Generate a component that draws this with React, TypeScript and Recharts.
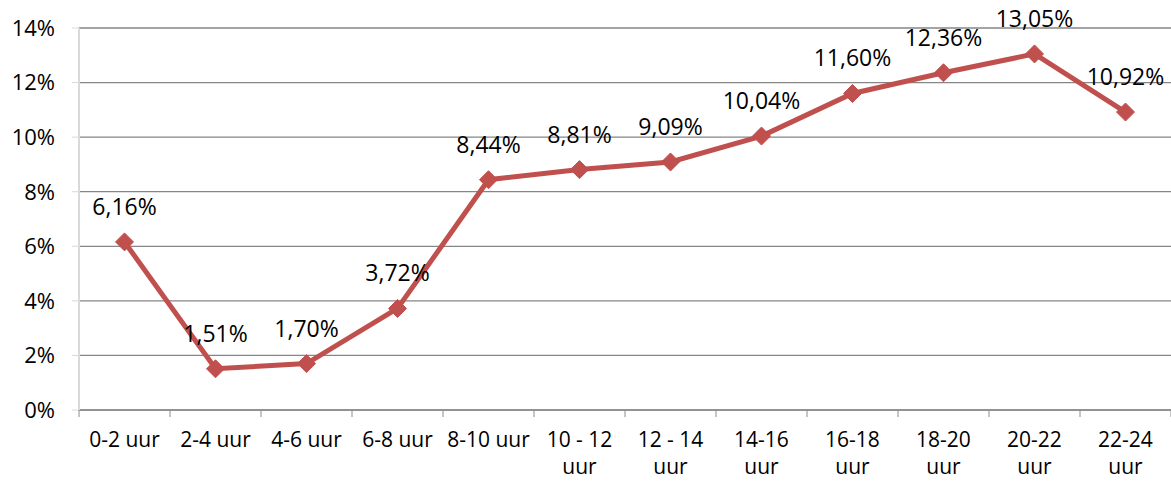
import React from 'react';
import { LineChart, Line, XAxis, YAxis, CartesianGrid, LabelList } from 'recharts';

const categories = ['0-2 uur', '2-4 uur', '4-6 uur', '6-8 uur', '8-10 uur', '10 - 12 uur', '12 - 14 uur', '14-16 uur', '16-18 uur', '18-20 uur', '20-22 uur', '22-24 uur'];
const shares = [6.16, 1.51, 1.7, 3.72, 8.44, 8.81, 9.09, 10.04, 11.6, 12.36, 13.05, 10.92];
const yTicks = [0, 2, 4, 6, 8, 10, 12, 14];

const data = categories.map((name, i) => ({ name, value: shares[i] }));

const FONT = '"Open Sans", sans-serif';
const RED = '#c0504d';
const AXIS_GREY = '#8c8c8c';

const fmtPct = (v: number) => v.toFixed(2).replace('.', ',') + '%';

const Diamond = (props: any) => {
    const { cx, cy } = props;
    if (cx == null || cy == null) return null;
    const r = 9;
    return (
        <polygon
            points={`${cx},${cy - r} ${cx + r},${cy} ${cx},${cy + r} ${cx - r},${cy}`}
            fill={RED}
            stroke={RED}
            strokeWidth={1}
        />
    );
};

// category label, wrapped onto two lines when long, plus the tick marks on the band edges
const XTick = (props: any) => {
    const { x, y, payload, width, visibleTicksCount, index } = props;
    const step = width / visibleTicksCount;
    const label: string = payload.value;
    let lines = [label];
    if (label.length > 8) {
        const cut = label.lastIndexOf(' ');
        lines = [label.slice(0, cut), label.slice(cut + 1)];
    }
    const top = y - 2 - 7;
    return (
        <g>
            <line x1={x - step / 2} x2={x - step / 2} y1={top} y2={top + 7} stroke={AXIS_GREY} />
            {index === visibleTicksCount - 1 && (
                <line x1={x + step / 2} x2={x + step / 2} y1={top} y2={top + 7} stroke={AXIS_GREY} />
            )}
            <text x={x} y={y} textAnchor="middle" fill="#000" fontFamily={FONT} fontSize={21}>
                {lines.map((l, i) => (
                    <tspan key={i} x={x} dy={i === 0 ? 28 : 27}>{l}</tspan>
                ))}
            </text>
        </g>
    );
};

const PointLabel = (props: any) => {
    const { x, y, value } = props;
    return (
        <text x={x} y={y - 27} textAnchor="middle" fill="#000" fontFamily={FONT} fontSize={23}>
            {fmtPct(value)}
        </text>
    );
};

export default function App() {
    return (
        <div style={{ position: 'absolute', left: 0, top: 0, background: '#fff' }}>
            <LineChart width={1171} height={482} data={data} margin={{ top: 28, right: 0, left: 0, bottom: 0 }}>
                <CartesianGrid vertical={false} stroke="#868686" strokeWidth={1.3} />
                <XAxis
                    dataKey="name"
                    height={72}
                    interval={0}
                    padding={{ left: 45.5, right: 45.5 }}
                    tick={<XTick />}
                    tickSize={7}
                    tickMargin={2}
                    tickLine={false}
                    axisLine={{ stroke: AXIS_GREY, strokeWidth: 1.3 }}
                />
                <YAxis
                    width={79}
                    domain={[0, 14]}
                    ticks={yTicks}
                    interval={0}
                    tickFormatter={(v: number) => `${v}%`}
                    tickSize={7}
                    tickMargin={17}
                    axisLine={{ stroke: '#d9d9d9', strokeWidth: 2 }}
                    tickLine={{ stroke: '#d9d9d9' }}
                    tick={{ fill: '#000', fontFamily: FONT, fontSize: 22 }}
                />
                <Line
                    type="linear"
                    dataKey="value"
                    stroke={RED}
                    strokeWidth={5}
                    dot={<Diamond />}
                    activeDot={false}
                    isAnimationActive={false}
                >
                    <LabelList dataKey="value" content={<PointLabel />} />
                </Line>
            </LineChart>
        </div>
    );
}
